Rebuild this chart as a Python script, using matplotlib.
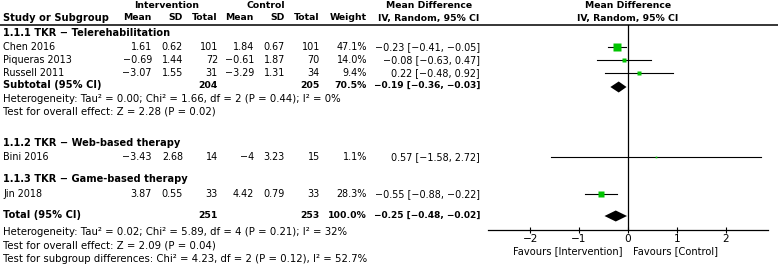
import numpy as np
import matplotlib
matplotlib.use("Agg")
import matplotlib.pyplot as plt

plt.rcParams["font.family"] = "DejaVu Sans"
plt.rcParams["axes.unicode_minus"] = True

# --- data ---
studies = ["Chen 2016", "Piqueras 2013", "Russell 2011", "Bini 2016", "Jin 2018"]
int_mean = ["1.61", "−0.69", "−3.07", "−3.43", "3.87"]
int_sd = ["0.62", "1.44", "1.55", "2.68", "0.55"]
int_n = [101, 72, 31, 14, 33]
ctl_mean = ["1.84", "−0.61", "−3.29", "−4", "4.42"]
ctl_sd = ["0.67", "1.87", "1.31", "3.23", "0.79"]
ctl_n = [101, 70, 34, 15, 33]
weight = [47.1, 14.0, 9.4, 1.1, 28.3]
md = [-0.23, -0.08, 0.22, 0.57, -0.55]
lo = [-0.41, -0.63, -0.48, -1.58, -0.88]
hi = [-0.05, 0.47, 0.92, 2.72, -0.22]

sub_md, sub_lo, sub_hi = -0.19, -0.36, -0.03
sub_n = (204, 205)
sub_w = 70.5
tot_md, tot_lo, tot_hi = -0.25, -0.48, -0.02
tot_n = (251, 253)

groups = ["1.1.1 TKR − Telerehabilitation", "1.1.2 TKR − Web-based therapy",
          "1.1.3 TKR − Game-based therapy"]
het1 = "Heterogeneity: Tau² = 0.00; Chi² = 1.66, df = 2 (P = 0.44); I² = 0%"
eff1 = "Test for overall effect: Z = 2.28 (P = 0.02)"
het_t = "Heterogeneity: Tau² = 0.02; Chi² = 5.89, df = 4 (P = 0.21); I² = 32%"
eff_t = "Test for overall effect: Z = 2.09 (P = 0.04)"
sub_t = "Test for subgroup differences: Chi² = 4.23, df = 2 (P = 0.12), I² = 52.7%"
xticks = [-2, -1, 0, 1, 2]

def fmt(v):
    return f"{v:.2f}".replace("-", "−")

def ci(m, l, h):
    return f"{fmt(m)} [{fmt(l)}, {fmt(h)}]"

W, H = 778, 265
fig = plt.figure(figsize=(W / 100, H / 100), dpi=100)
ax = fig.add_axes([0, 0, 1, 1])
ax.set_xlim(0, W); ax.set_ylim(H, 0); ax.axis("off")

fs = 6.9      # regular text
fsb = 6.7     # bold text
fsn = 7.3     # footnote lines
study_rows = [47, 60, 73, 157, 194]
cols = [152, 183, 218, 254, 285, 320, 367, 480]

def t(x, y, s, ha="right", bold=False, size=None):
    if size is None:
        size = fsb if bold else fs
    ax.text(x, y, s, ha=ha, va="center", fontsize=size,
            fontweight="bold" if bold else "normal")

# headers
t(167, 5, "Intervention", ha="center", bold=True)
t(266, 5, "Control", ha="center", bold=True)
t(429, 5, "Mean Difference", ha="center", bold=True)
t(628, 5, "Mean Difference", ha="center", bold=True)
t(3, 18, "Study or Subgroup", ha="left", bold=True, size=7.1)
for x, s in zip(cols, ["Mean", "SD", "Total", "Mean", "SD", "Total", "Weight"]):
    t(x, 18, s, bold=True)
t(429, 18, "IV, Random, 95% CI", ha="center", bold=True)
t(628, 18, "IV, Random, 95% CI", ha="center", bold=True)
ax.plot([0, W], [24.5, 24.5], color="black", lw=1.1)

# group labels
for y, g in zip([33, 143, 179], groups):
    t(3, y, g, ha="left", bold=True, size=7.1)

for i, y in enumerate(study_rows):
    t(3, y, studies[i], ha="left")
    vals = [int_mean[i], int_sd[i], str(int_n[i]), ctl_mean[i], ctl_sd[i],
            str(ctl_n[i]), f"{weight[i]:.1f}%", ci(md[i], lo[i], hi[i])]
    for x, s in zip(cols, vals):
        t(x, y, s)

# subtotal
t(3, 85, "Subtotal (95% CI)", ha="left", bold=True, size=7.1)
t(cols[2], 85, str(sub_n[0]), bold=True)
t(cols[5], 85, str(sub_n[1]), bold=True)
t(cols[6], 85, f"{sub_w:.1f}%", bold=True)
t(cols[7], 85, ci(sub_md, sub_lo, sub_hi), bold=True, size=6.5)
t(3, 99, het1, ha="left", size=fsn)
t(3, 112, eff1, ha="left", size=fsn)

# total
t(3, 215, "Total (95% CI)", ha="left", bold=True, size=7.1)
t(cols[2], 215, str(tot_n[0]), bold=True)
t(cols[5], 215, str(tot_n[1]), bold=True)
t(cols[6], 215, "100.0%", bold=True)
t(cols[7], 215, ci(tot_md, tot_lo, tot_hi), bold=True, size=6.5)
t(3, 232, het_t, ha="left", size=fsn)
t(3, 245, eff_t, ha="left", size=fsn)
t(3, 259, sub_t, ha="left", size=fsn)

# forest panel
fx = fig.add_axes([488 / W, (H - 230) / H, 280 / W, 205 / H])
fx.set_xlim(-2.86, 2.86); fx.set_ylim(230, 25)
fx.patch.set_alpha(0)
for s in ["top", "right", "left"]:
    fx.spines[s].set_visible(False)
fx.spines["bottom"].set_linewidth(0.9)
fx.set_yticks([])
fx.set_xticks(xticks)
fx.set_xticklabels([str(v).replace("-", "−") for v in xticks], fontsize=7.6)
fx.tick_params(axis="x", direction="inout", length=5, width=0.8, pad=0.5)
fx.axvline(0, color="black", lw=0.9)

for i, y in enumerate(study_rows):
    fx.plot([lo[i], hi[i]], [y, y], color="black", lw=0.8)
    side = 8 * np.sqrt(weight[i] / 47.1) * 0.72
    fx.plot(md[i], y, marker="s", ms=max(side, 1.2), color="#00c400", mec="none")

def diamond(m, l, h, y, hh=5.5):
    fx.fill([l, m, h, m], [y, y - hh, y, y + hh], color="black", lw=0)

diamond(sub_md, sub_lo, sub_hi, 87)
diamond(tot_md, tot_lo, tot_hi, 216)

t(623, 251, "Favours [Intervention]", ha="right", size=7.1)
t(633, 251, "Favours [Control]", ha="left", size=7.1)

fig.savefig("out.png", dpi=100)
